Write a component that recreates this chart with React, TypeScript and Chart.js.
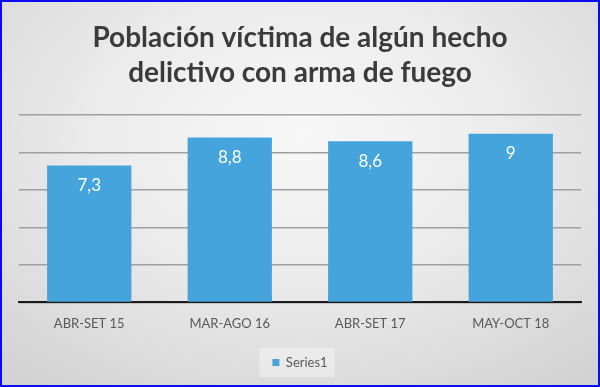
import React, { useEffect, useRef } from "react";
import { Chart, registerables } from "chart.js";

Chart.register(...registerables);

const categories = ["ABR-SET 15", "MAR-AGO 16", "ABR-SET 17", "MAY-OCT 18"];
const values = [7.3, 8.8, 8.6, 9];
const valueLabels = ["7,3", "8,8", "8,6", "9"];
const titleLines = ["Población víctima de algún hecho", "delictivo con arma de fuego"];
const seriesName = "Series1";
const yMin = 0;
const yMax = 10;
const yStep = 2;

const FONT = "Lato, 'Open Sans', sans-serif";
const BAR_COLOR = "rgb(69,164,219)";

const dataLabelPlugin = {
  id: "dataLabels",
  afterDatasetsDraw(chart: any) {
    const ctx = chart.ctx;
    const meta = chart.getDatasetMeta(0);
    ctx.save();
    ctx.fillStyle = "#ffffff";
    ctx.font = `17px ${FONT}`;
    ctx.textAlign = "center";
    ctx.textBaseline = "middle";
    meta.data.forEach((bar: any, i: number) => {
      ctx.fillText(valueLabels[i], bar.x, bar.y + 20);
    });
    ctx.restore();
  },
};

const legendBgPlugin = {
  id: "legendBg",
  beforeDraw(chart: any) {
    const lg = chart.legend;
    if (!lg || !lg.legendHitBoxes || !lg.legendHitBoxes.length) return;
    const hb = lg.legendHitBoxes[0];
    const ctx = chart.ctx;
    ctx.save();
    ctx.fillStyle = "rgba(255,255,255,0.35)";
    ctx.fillRect(hb.left - 13, hb.top - 8, hb.width + 20, hb.height + 16);
    ctx.restore();
  },
};

export default function App() {
  const ref = useRef<HTMLCanvasElement | null>(null);
  useEffect(() => {
    if (!ref.current) return;
    const chart = new Chart(ref.current, {
      type: "bar",
      data: {
        labels: categories,
        datasets: [
          {
            label: seriesName,
            data: values,
            backgroundColor: BAR_COLOR,
            borderWidth: 0,
            barPercentage: 0.6,
            categoryPercentage: 1,
          },
        ],
      },
      options: {
        responsive: false,
        animation: false,
        layout: { padding: { left: 19, right: 19, top: 0, bottom: 8 } },
        scales: {
          x: {
            grid: { display: false, drawTicks: false },
            border: { display: true, color: "#1a1a1a", width: 2 },
            ticks: {
              color: "#595959",
              font: { family: FONT, size: 13 },
              padding: 14,
            },
          },
          y: {
            min: yMin,
            max: yMax,
            ticks: { display: false, stepSize: yStep },
            grid: { color: "#a0a0a0", lineWidth: 1.5, drawTicks: false },
            border: { display: false },
          },
        },
        plugins: {
          title: {
            display: true,
            text: titleLines,
            color: "#3b3b3b",
            font: { family: FONT, size: 28, weight: "bold", lineHeight: 1.25 },
            padding: { top: 20, bottom: 25 },
          },
          legend: {
            position: "bottom",
            labels: {
              boxWidth: 7,
              boxHeight: 7,
              color: "#595959",
              font: { family: FONT, size: 13 },
              padding: 10,
            },
          },
          tooltip: { enabled: false },
        },
      },
      plugins: [dataLabelPlugin, legendBgPlugin],
    });
    return () => chart.destroy();
  }, []);

  return (
    <div
      style={{
        position: "absolute",
        left: 0,
        top: 0,
        width: 600,
        height: 387,
        background:
          "radial-gradient(ellipse 75% 80% at 50% 35%, #f8f8f8 0%, #ececec 45%, #d3d3d3 100%)",
        overflow: "hidden",
      }}
    >
      <canvas ref={ref} width={600} height={387} style={{ position: "absolute", left: 0, top: 0, width: 600, height: 387 }} />
      <div
        style={{
          position: "absolute",
          left: 0,
          top: 0,
          width: 600,
          height: 387,
          boxSizing: "border-box",
          border: "2px solid #0a0af5",
          pointerEvents: "none",
        }}
      />
    </div>
  );
}
